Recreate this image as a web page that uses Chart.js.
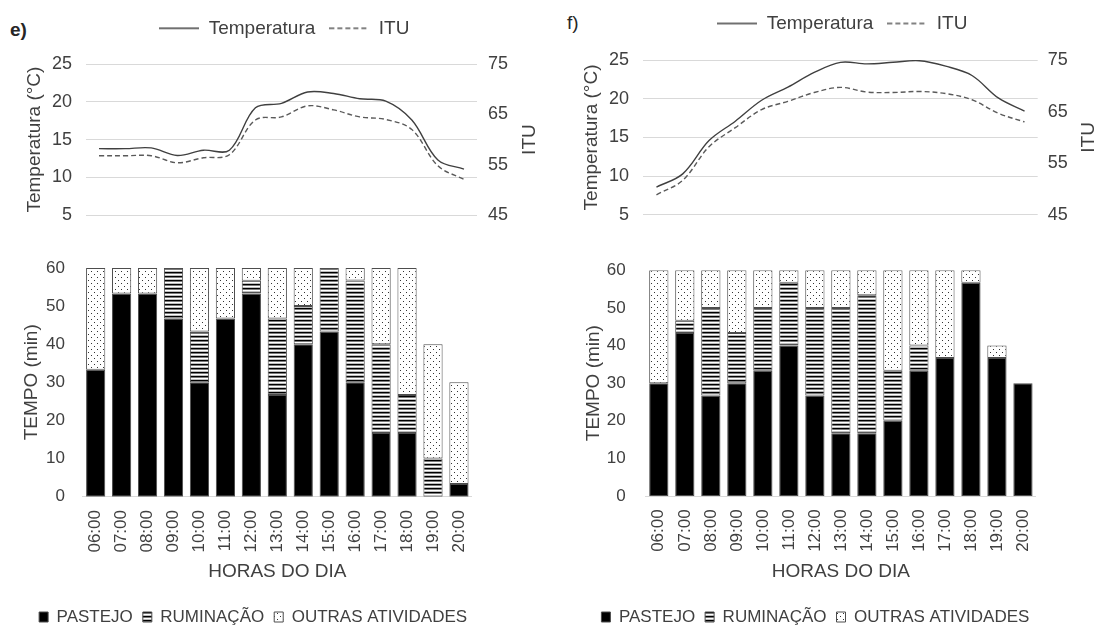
<!DOCTYPE html>
<html>
<head>
<meta charset="utf-8">
<script src="https://cdn.jsdelivr.net/npm/chart.js@4.4.1/dist/chart.umd.min.js"></script>
<style>
  html, body { margin: 0; padding: 0; background: #fff; }
  body { position: relative; width: 1101px; height: 628px; overflow: hidden; font-family: 'Liberation Sans', Arial, sans-serif; }
  canvas { position: absolute; }
  .tag { position: absolute; font-size: 19px; line-height: 1; color: #262626; }
</style>
</head>
<body>
<div class="tag" style="left:10px; top:20px; font-weight:bold;">e)</div>
<div class="tag" style="left:567px; top:13px;">f)</div>
<canvas id="tempE" width="545" height="240" style="left:0; top:0;"></canvas>
<canvas id="tempF" width="544" height="240" style="left:560px; top:0;"></canvas>
<canvas id="tempoE" width="493" height="396" style="left:0; top:240px;"></canvas>
<canvas id="tempoF" width="497" height="396" style="left:560px; top:240px;"></canvas>
<script>
const horas = ['06:00', '07:00', '08:00', '09:00', '10:00', '11:00', '12:00', '13:00', '14:00', '15:00', '16:00', '17:00', '18:00', '19:00', '20:00'];

// e) temperatura e ITU
const tempE = [13.8, 13.8, 13.9, 12.9, 13.6, 13.6, 19.2, 19.8, 21.3, 21.1, 20.4, 20.1, 17.6, 12.3, 11.1];
const ituE = [56.8, 56.8, 56.8, 55.4, 56.4, 57.0, 63.9, 64.5, 66.7, 65.9, 64.5, 64.0, 62.0, 54.8, 52.1];
// f) temperatura e ITU
const tempF = [8.6, 10.3, 14.6, 17.1, 19.8, 21.5, 23.4, 24.7, 24.5, 24.7, 24.9, 24.2, 23.0, 20.1, 18.4];
const ituF = [48.9, 51.7, 58.2, 61.9, 65.4, 67.0, 68.7, 69.7, 68.8, 68.7, 68.9, 68.5, 67.3, 64.7, 63.0];

// e) tempo (min) por atividade
const pastejoE = [33.3, 53.3, 53.3, 46.7, 30, 46.7, 53.3, 26.7, 40, 43.3, 30, 16.7, 16.7, 0, 3.3];
const ruminacaoE = [0, 0, 0, 13.3, 13.3, 0, 3.3, 20, 10, 16.7, 26.7, 23.3, 10, 10, 0];
const outrasE = [26.7, 6.7, 6.7, 0, 16.7, 13.3, 3.4, 13.3, 10, 0, 3.3, 20, 33.3, 30, 26.7];
// f) tempo (min) por atividade
const pastejoF = [30, 43.3, 26.7, 30, 33.3, 40, 26.7, 16.7, 16.7, 20, 33.3, 36.7, 56.7, 36.7, 30];
const ruminacaoF = [0, 3.3, 23.3, 13.3, 16.7, 16.7, 23.3, 33.3, 36.7, 13.3, 6.7, 0, 0, 0, 0];
const outrasF = [30, 13.4, 10, 16.7, 10, 3.3, 10, 10, 6.6, 26.7, 20, 23.3, 3.3, 3.3, 0];

const tempTicks = [5, 25, 5];   // min, max, step
const ituTicks = [45, 75, 10];
const tempoTicks = [0, 60, 10];

const FONT = "'Liberation Sans', Arial, sans-serif";
const TEXT = '#404040';
Chart.defaults.font.family = FONT;
Chart.defaults.color = TEXT;

function stripePattern() {
    const c = document.createElement('canvas');
    c.width = 4; c.height = 4;
    const g = c.getContext('2d');
    g.fillStyle = '#fff'; g.fillRect(0, 0, 4, 4);
    g.fillStyle = '#000'; g.fillRect(0, 0, 4, 1);
    g.fillStyle = '#7a7a7a'; g.fillRect(0, 1, 4, 1);
    g.fillStyle = '#bdbdbd'; g.fillRect(0, 3, 4, 1);
    return g.createPattern(c, 'repeat');
}

function dotPattern() {
    const c = document.createElement('canvas');
    c.width = 6; c.height = 6;
    const g = c.getContext('2d');
    g.fillStyle = '#fff'; g.fillRect(0, 0, 6, 6);
    g.fillStyle = '#333';
    g.fillRect(1, 1, 1, 1);
    g.fillRect(4, 4, 1, 1);
    return g.createPattern(c, 'repeat');
}

// legend sample: a short line, solid or dashed
function lineSample(color, dash) {
    const c = document.createElement('canvas');
    c.width = 40; c.height = 4;
    const g = c.getContext('2d');
    g.strokeStyle = color;
    g.lineWidth = 1.4;
    g.setLineDash(dash);
    g.beginPath();
    g.moveTo(0, 2);
    g.lineTo(40, 2);
    g.stroke();
    return c;
}

// pushes the plot down below the legend
function legendGap(gap) {
    return {
        id: 'legendGap',
        beforeInit(chart) {
            const fit = chart.legend.fit;
            chart.legend.fit = function () {
                fit.call(this);
                this.height += gap;
            };
        }
    };
}

// right axis title reads bottom-to-top like the left one
function ituTitle(x) {
    return {
        id: 'ituTitle',
        afterDraw(chart) {
            const { ctx, chartArea } = chart;
            ctx.save();
            ctx.translate(x, (chartArea.top + chartArea.bottom) / 2);
            ctx.rotate(-Math.PI / 2);
            ctx.font = '19px ' + FONT;
            ctx.fillStyle = TEXT;
            ctx.textAlign = 'center';
            ctx.textBaseline = 'middle';
            ctx.fillText('ITU', 0, 0);
            ctx.restore();
        }
    };
}

function lineChart(id, temp, itu, g) {
    return new Chart(document.getElementById(id), {
        type: 'line',
        data: {
            labels: horas,
            datasets: [
                { label: 'Temperatura', data: temp, yAxisID: 'y', borderColor: '#404040', borderWidth: 1.4, tension: 0.35, pointRadius: 0, fill: false,
                  pointStyle: lineSample('#404040', []) },
                { label: 'ITU', data: itu, yAxisID: 'y1', borderColor: '#5a5a5a', borderWidth: 1.4, borderDash: [5, 3], tension: 0.35, pointRadius: 0, fill: false,
                  pointStyle: lineSample('#5a5a5a', [5, 3]) }
            ]
        },
        options: {
            responsive: false,
            animation: false,
            layout: { padding: { left: g.padL, right: 0, top: g.padT, bottom: g.padB } },
            plugins: {
                legend: {
                    position: 'top',
                    labels: { usePointStyle: true, pointStyleWidth: 40, padding: 14, color: TEXT, font: { size: 19 } }
                },
                tooltip: { enabled: false }
            },
            scales: {
                x: { display: false, offset: true },
                y: {
                    min: tempTicks[0], max: tempTicks[1],
                    ticks: { stepSize: tempTicks[2], padding: g.tickPad, font: { size: 18 } },
                    grid: { color: '#d9d9d9', drawTicks: false },
                    border: { display: false },
                    title: { display: true, text: 'Temperatura (°C)', font: { size: 19 }, padding: { top: 0, bottom: 0 } },
                    afterFit: s => { s.width = g.yWidth; }
                },
                y1: {
                    position: 'right',
                    min: ituTicks[0], max: ituTicks[1],
                    ticks: { stepSize: ituTicks[2], padding: g.rPad, font: { size: 18 } },
                    grid: { display: false, drawTicks: false },
                    border: { display: false },
                    afterFit: s => { s.width = g.rWidth; }
                }
            }
        },
        plugins: [legendGap(g.gap), ituTitle(g.ituX)]
    });
}

function barChart(id, pastejo, ruminacao, outras, g) {
    return new Chart(document.getElementById(id), {
        type: 'bar',
        data: {
            labels: horas,
            datasets: [
                { label: 'PASTEJO', data: pastejo, backgroundColor: '#000', borderColor: '#4d4d4d' },
                { label: 'RUMINAÇÃO', data: ruminacao, backgroundColor: stripePattern(), borderColor: '#4d4d4d' },
                { label: 'OUTRAS ATIVIDADES', data: outras, backgroundColor: dotPattern(), borderColor: '#4d4d4d' }
            ]
        },
        options: {
            responsive: false,
            animation: false,
            datasets: { bar: { categoryPercentage: 0.74, barPercentage: 1, borderWidth: 1, borderSkipped: false } },
            layout: { padding: { left: g.padL, right: g.padR, top: g.padT, bottom: 0.5 } },
            plugins: {
                legend: {
                    position: 'bottom',
                    labels: { boxWidth: 9, boxHeight: 10, padding: 10, color: TEXT, font: { size: 17 } }
                },
                tooltip: { enabled: false }
            },
            scales: {
                x: {
                    stacked: true,
                    grid: { display: false, drawTicks: false },
                    border: { color: '#d9d9d9' },
                    ticks: { autoSkip: false, minRotation: 90, maxRotation: 90, padding: 13.3, font: { size: 17 } },
                    title: { display: true, text: 'HORAS DO DIA', font: { size: 19 }, padding: { top: 0, bottom: 15.1 } },
                    afterFit: s => { s.height = g.xHeight; }
                },
                y: {
                    stacked: true,
                    min: tempoTicks[0], max: tempoTicks[1],
                    ticks: { stepSize: tempoTicks[2], padding: g.tickPad, font: { size: 17 } },
                    grid: { display: false, drawTicks: false },
                    border: { display: false },
                    title: { display: true, text: 'TEMPO (min)', font: { size: 19 }, padding: { top: g.titlePad, bottom: 0 } },
                    afterFit: s => { s.width = g.yWidth; }
                }
            }
        }
    });
}

lineChart('tempE', tempE, ituE, { padL: 23.6, padT: 4.8, padB: 15.7, gap: 16.2, yWidth: 62.4, tickPad: 14, rWidth: 68, rPad: 11, ituX: 529.5 });
lineChart('tempF', tempF, ituF, { padL: 20.6, padT: 0, padB: 19.3, gap: 17, yWidth: 62.7, tickPad: 14.3, rWidth: 66.3, rPad: 10, ituX: 528.7 });

barChart('tempoE', pastejoE, ruminacaoE, outrasE, { padL: 23.8, padR: 10.6, padT: 20, yWidth: 58.9, tickPad: 17.7, titlePad: -3.5, xHeight: 101.8 });
barChart('tempoF', pastejoF, ruminacaoF, outrasF, { padL: 24.3, padR: 10.5, padT: 16.7, yWidth: 61.5, tickPad: 20.1, titlePad: -1.7, xHeight: 102.5 });
</script>
</body>
</html>
